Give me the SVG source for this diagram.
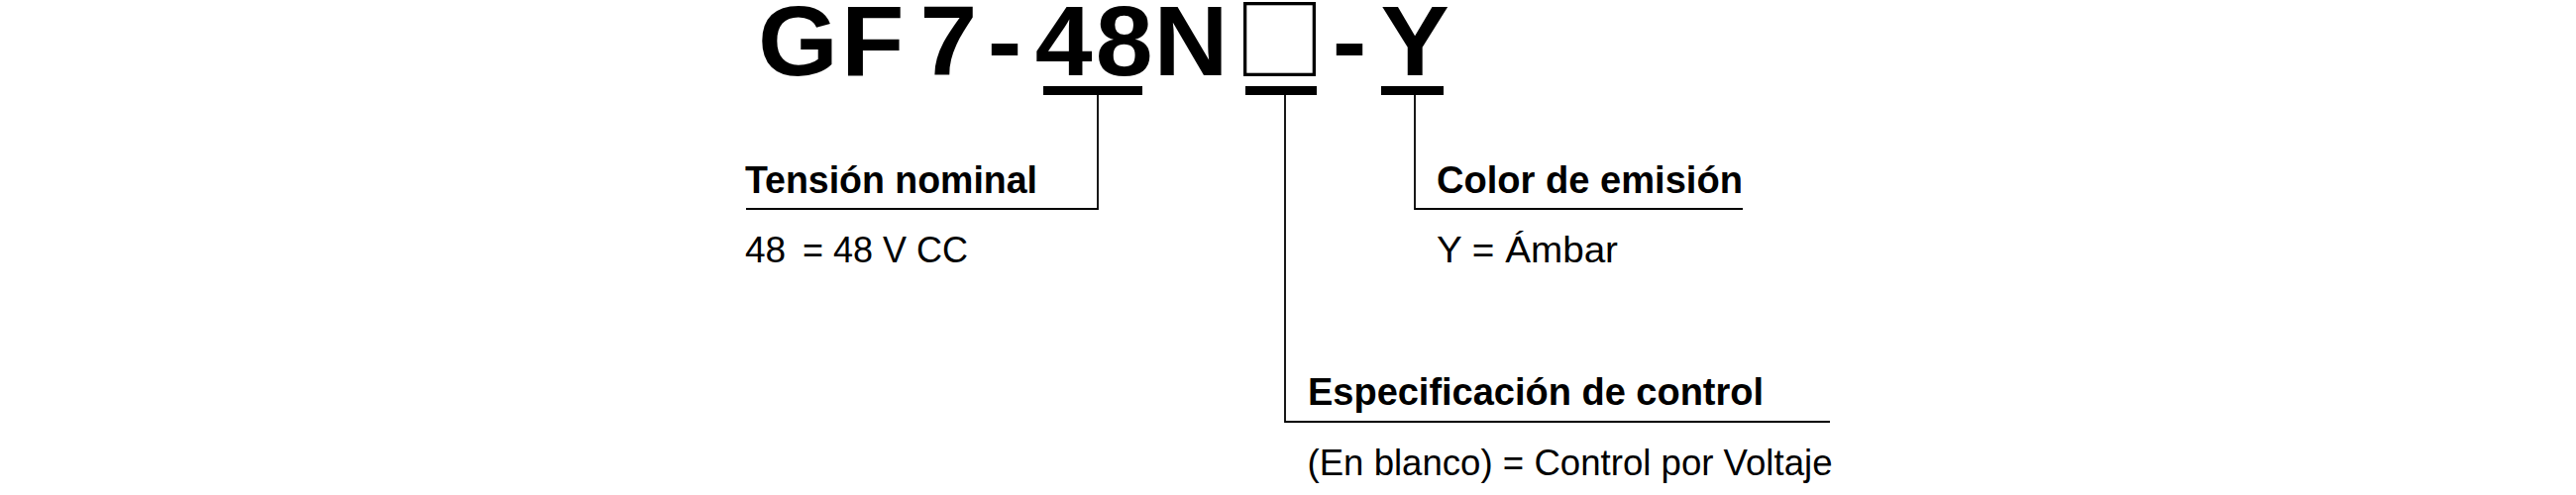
<svg xmlns="http://www.w3.org/2000/svg" width="2600" height="500" viewBox="0 0 2600 500">
<style>
.title{font-family:"Liberation Sans",Arial,sans-serif;font-weight:bold;font-size:104px;fill:#000}
.head{font-family:"Liberation Sans",Arial,sans-serif;font-weight:bold;font-size:39px;fill:#000}
.val{font-family:"Liberation Sans",Arial,sans-serif;font-size:37px;fill:#000}
.bar{fill:#000}
.conn{fill:none;stroke:#000;stroke-width:1.8}
</style>
<rect width="2600" height="500" fill="#fff"/>
<g id="title">
<text class="title" transform="scale(1,0.957)" x="765 849 928.6 996.8 1044.7 1105.8 1164.4" y="79.4">GF7-48N</text>
<text class="title" transform="scale(1,0.957)" x="1344.8 1393.5" y="79.4">-Y</text>
<rect x="1256.65" y="3.65" width="69.7" height="71.7" fill="none" stroke="#000" stroke-width="3.3"/>
<rect class="bar" x="1053" y="87" width="100" height="9"/>
<rect class="bar" x="1257" y="87" width="72" height="9"/>
<rect class="bar" x="1394" y="87" width="63" height="9"/>
</g>
<g id="connectors">
<polyline class="conn" points="1108,96 1108,211 753,211"/>
<polyline class="conn" points="1297,96 1297,426 1847,426"/>
<polyline class="conn" points="1428,96 1428,211 1759,211"/>
</g>
<g id="node-tension">
<text class="head" x="752" y="195" textLength="295" lengthAdjust="spacingAndGlyphs">Tensión nominal</text>
<text class="val" x="752" y="265">48</text>
<text class="val" x="810" y="265" textLength="167" lengthAdjust="spacingAndGlyphs">= 48 V CC</text>
</g>
<g id="node-color">
<text class="head" x="1450" y="195" textLength="309" lengthAdjust="spacingAndGlyphs">Color de emisión</text>
<text class="val" x="1450" y="265" textLength="183" lengthAdjust="spacingAndGlyphs">Y = Ámbar</text>
</g>
<g id="node-control">
<text class="head" x="1320" y="409" textLength="460" lengthAdjust="spacingAndGlyphs">Especificación de control</text>
<text class="val" x="1319.5" y="480" textLength="530" lengthAdjust="spacingAndGlyphs">(En blanco) = Control por Voltaje</text>
</g>
</svg>
